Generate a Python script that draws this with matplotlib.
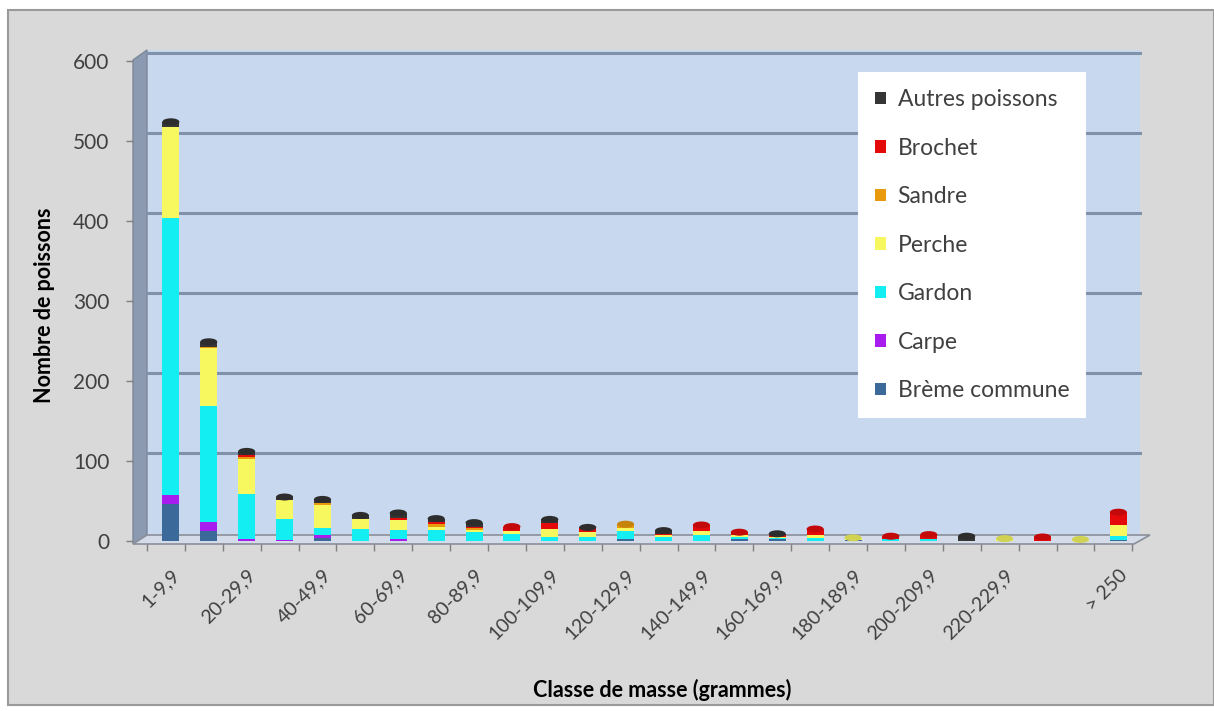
import numpy as np
import matplotlib
matplotlib.use("Agg")
import matplotlib.pyplot as plt
from matplotlib.patches import Polygon, Rectangle, Ellipse
from matplotlib.colors import to_rgb
from matplotlib.transforms import ScaledTranslation

# classes de masse (grammes)
categories = ['1-9,9', '10-19,9', '20-29,9', '30-39,9', '40-49,9', '50-59,9',
              '60-69,9', '70-79,9', '80-89,9', '90-99,9', '100-109,9', '110-119,9',
              '120-129,9', '130-139,9', '140-149,9', '150-159,9', '160-169,9',
              '170-179,9', '180-189,9', '190-199,9', '200-209,9', '210-219,9',
              '220-229,9', '230-239,9', '240-249,9', '> 250']
# etiquettes affichees sous l'axe
shown_labels = [0, 2, 4, 6, 8, 10, 12, 14, 16, 18, 20, 22, 25]

# nombre de poissons par espece
breme   = [46, 12, 0, 0, 4, 0, 0, 0, 0, 0, 0, 0, 2, 0, 0, 2, 2, 0, 1, 0, 0, 0, 0, 0, 0, 1]
carpe   = [11, 12, 2, 1, 3, 0, 3, 0, 0, 0, 0, 0, 0, 0, 0, 0, 0, 0, 0, 0, 0, 0, 0, 0, 0, 0]
gardon  = [347, 145, 57, 26, 9, 15, 11, 14, 11, 9, 5, 5, 10, 5, 7, 3, 2, 4, 0, 2, 2, 0, 0, 0, 0, 5]
perche  = [114, 72, 43, 24, 29, 13, 12, 4, 3, 4, 10, 6, 4, 2, 5, 2, 1, 3, 3, 0, 1, 0, 3, 0, 2, 14]
sandre  = [0, 2, 3, 0, 2, 0, 0, 3, 2, 0, 0, 0, 5, 0, 0, 0, 0, 0, 0, 0, 0, 0, 0, 0, 0, 0]
brochet = [0, 0, 2, 0, 0, 0, 3, 3, 2, 5, 7, 5, 0, 2, 8, 4, 3, 8, 0, 4, 5, 0, 0, 5, 0, 16]
autres  = [6, 6, 5, 4, 5, 4, 6, 4, 5, 0, 5, 1, 0, 4, 0, 0, 1, 0, 0, 0, 0, 6, 0, 0, 0, 0]

series = [
    ("Brème commune", breme, "#3b6a9a"),
    ("Carpe", carpe, "#a81cf0"),
    ("Gardon", gardon, "#12eef2"),
    ("Perche", perche, "#f7f760"),
    ("Sandre", sandre, "#e89a0c"),
    ("Brochet", brochet, "#e50a0a"),
    ("Autres poissons", autres, "#353535"),
]

W, H = 1214, 711
plt.rcParams['font.family'] = ['Lato', 'DejaVu Sans']

fig = plt.figure(figsize=(W / 100, H / 100), dpi=100)
fig.patch.set_facecolor("white")

def px(x, y):
    # pixels (depuis le haut gauche) -> coordonnees figure
    return (x / W, 1 - y / H)

# fond gris de la zone du graphique
fig.patches.append(Rectangle(px(8, 705), (W - 8) / W, 695 / H, transform=fig.transFigure,
                             facecolor="#d9d9d9", edgecolor="#9a9a9a", linewidth=1.5, zorder=-5))

x0, x1, ytop, ybot = 147, 1140, 52, 541
ax = fig.add_axes([x0 / W, 1 - ybot / H, (x1 - x0) / W, (ybot - ytop) / H])
ax.patch.set_visible(False)
ymax = (ybot - ytop) / 0.8
ax.set_ylim(0, ymax)
px_per_cat = 38.44
ax.set_xlim(-10 / px_per_cat, 25 + 22 / px_per_cat)

tf = fig.transFigure
# mur du fond
ax.add_patch(Polygon([px(147, 535), px(147, 50), px(1140, 50), px(1140, 535)], closed=True,
                     transform=tf, facecolor="#c7d8ef", edgecolor="none", zorder=0, clip_on=False))
# mur gauche
ax.add_patch(Polygon([px(133, 544), px(133, 60), px(147, 50), px(147, 535)], closed=True,
                     transform=tf, facecolor="#8b9ab0", edgecolor="#7d8899", linewidth=1,
                     zorder=0.5, clip_on=False))
# plancher
ax.add_patch(Polygon([px(133, 544), px(147, 535), px(1150, 535), px(1134, 544)], closed=True,
                     transform=tf, facecolor="#d4dcea", edgecolor="#8a8f99", linewidth=1.2,
                     zorder=0.5, clip_on=False))

# quadrillage sur le mur du fond (decale vers le haut)
grid_tr = ax.get_yaxis_transform() + ScaledTranslation(0, 8 / 100, fig.dpi_scale_trans)
for v in range(100, 700, 100):
    ax.plot([0, 1], [v, v], transform=grid_tr, color="#7f92aa", linewidth=2.2, zorder=1, clip_on=False)

x = np.arange(len(categories))
bw = 0.45
cap_h = 7 / 0.8
bottom = np.zeros(len(categories))
top_col = [None] * len(categories)
handles = []
for name, vals, col in series:
    vals = np.array(vals, dtype=float)
    b = ax.bar(x, vals, width=bw, bottom=bottom, color=col, edgecolor="none", zorder=3, label=name)
    handles.append(b)
    bottom += vals
    for i in range(len(categories)):
        if vals[i] > 0:
            top_col[i] = col

# dessus des cylindres
for i in range(len(categories)):
    if top_col[i] is None:
        continue
    r, g, b_ = to_rgb(top_col[i])
    ax.add_patch(Ellipse((x[i], bottom[i]), bw, cap_h, facecolor=(r * 0.85, g * 0.85, b_ * 0.85),
                         edgecolor="none", zorder=4, clip_on=False))

for s in ax.spines.values():
    s.set_visible(False)
ax.spines['left'].set_position(('outward', 10))
ax.spines['bottom'].set_position(('outward', 2))

ax.set_yticks(range(0, 700, 100))
ax.tick_params(axis='y', direction='out', length=5, width=1, color="#7f7f7f",
               labelsize=15, labelcolor="#404040", pad=12)

ax.set_xticks([x[i] for i in shown_labels])
ax.set_xticklabels([categories[i] for i in shown_labels], rotation=45, ha='right',
                   rotation_mode='anchor', fontsize=14, color="#404040")
ax.set_xticks(np.arange(len(categories) + 1) - 0.63, minor=True)
ax.tick_params(axis='x', which='major', length=0, pad=16)
ax.tick_params(axis='x', which='minor', direction='out', length=5, width=1, color="#7f7f7f")

fig.text(45 / W, 1 - 305 / H, "Nombre de poissons", rotation=90, ha='center', va='center',
         fontsize=15.5, fontweight='bold', color="black")
fig.text(662 / W, 1 - 690 / H, "Classe de masse (grammes)", ha='center', va='center',
         fontsize=15.5, fontweight='bold', color="black")

leg = ax.legend(handles[::-1], [s[0] for s in series][::-1], loc='upper left',
                bbox_to_anchor=px(858, 72), bbox_transform=tf, frameon=True, fancybox=False,
                fontsize=16.5, handlelength=0.48, handleheight=0.48, handletextpad=0.5,
                labelspacing=1.2, borderpad=0.75, borderaxespad=0)
leg.get_frame().set_facecolor("white")
leg.get_frame().set_edgecolor("none")
leg.get_frame().set_alpha(1)
for t in leg.get_texts():
    t.set_color("#404040")
leg.set_zorder(10)

fig.savefig("out.png", dpi=100)
